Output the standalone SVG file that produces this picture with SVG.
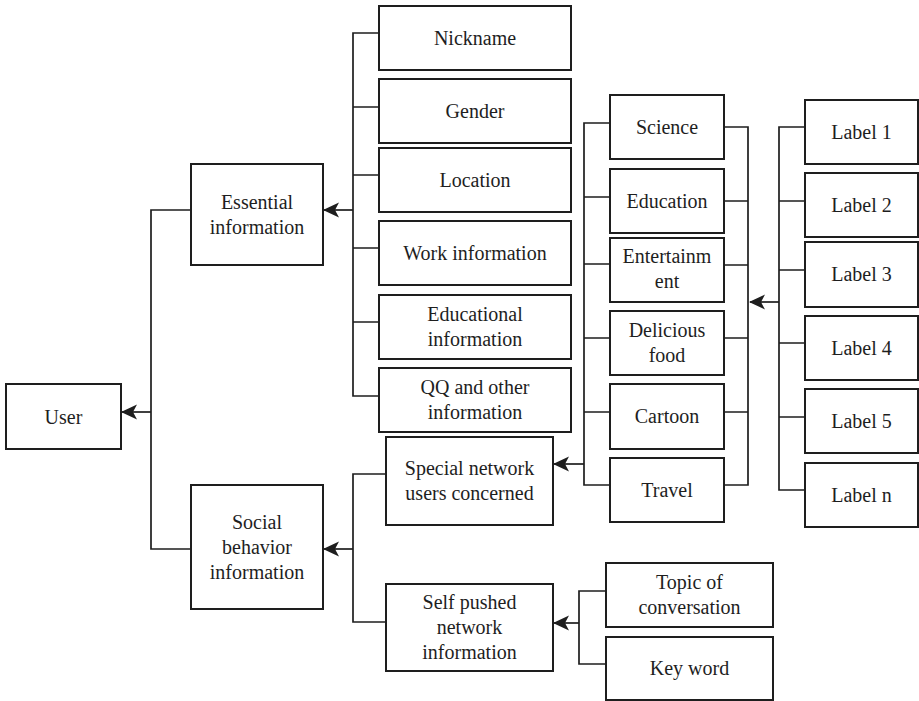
<svg xmlns="http://www.w3.org/2000/svg" width="919" height="701" viewBox="0 0 919 701">
  <style>
    .box { fill: #ffffff; stroke: #1e1e1e; stroke-width: 2; }
    .lbl { font-size: 20px; fill: #1e1e1e; text-anchor: middle; }
    .wire { fill: none; stroke: #1e1e1e; stroke-width: 1.7; }
  </style>
  <defs>
    <marker id="arrow" viewBox="0 0 16 16" refX="15" refY="8" markerWidth="16" markerHeight="16" markerUnits="userSpaceOnUse" orient="auto">
      <path d="M0,0.5 L16,8 L0,15.5 L4,8 Z" fill="#1e1e1e"/>
    </marker>
  </defs>
  <rect width="919" height="701" fill="#ffffff"/>

  <!-- connectors -->
  <g id="connectors">
    <!-- User tree -->
    <path class="wire" d="M191,210 H151 V549 H191"/>
    <path class="wire" d="M151,412 H122" marker-end="url(#arrow)"/>
    <!-- Essential information children -->
    <path class="wire" d="M379,33 H353 V396 H379 M353,107 H379 M353,175 H379 M353,248 H379 M353,322 H379"/>
    <path class="wire" d="M353,210 H324" marker-end="url(#arrow)"/>
    <!-- Social behavior children -->
    <path class="wire" d="M386,474 H353 V622 H386"/>
    <path class="wire" d="M353,549 H324" marker-end="url(#arrow)"/>
    <!-- Interest categories -->
    <path class="wire" d="M610,123 H584 V485 H610 M584,197 H610 M584,264 H610 M584,338 H610 M584,412 H610"/>
    <path class="wire" d="M584,464 H554" marker-end="url(#arrow)"/>
    <path class="wire" d="M724,127 H748 V485 H724 M724,201 H748 M724,265 H748 M724,338 H748 M724,412 H748"/>
    <!-- Labels -->
    <path class="wire" d="M805,127 H779 V490 H805 M779,201 H805 M779,270 H805 M779,343 H805 M779,417 H805"/>
    <path class="wire" d="M779,302 H750" marker-end="url(#arrow)"/>
    <!-- Self pushed children -->
    <path class="wire" d="M606,591 H579 V664 H606"/>
    <path class="wire" d="M579,623 H554" marker-end="url(#arrow)"/>
  </g>

  <g font-family="Liberation Serif, Tinos, Times New Roman, Noto Serif, serif">
  <g id="user">
    <rect class="box" x="6" y="384" width="115" height="65"/>
    <text class="lbl" x="63.5" y="423.5">User</text>
  </g>

  <g id="essential">
    <rect class="box" x="191" y="164" width="132" height="101"/>
    <text class="lbl" x="257" y="209">Essential</text>
    <text class="lbl" x="257" y="234">information</text>
  </g>

  <g id="social">
    <rect class="box" x="191" y="485" width="132" height="124"/>
    <text class="lbl" x="257" y="529">Social</text>
    <text class="lbl" x="257" y="554">behavior</text>
    <text class="lbl" x="257" y="579">information</text>
  </g>

  <g id="nickname">
    <rect class="box" x="379" y="6" width="192" height="64"/>
    <text class="lbl" x="475" y="45">Nickname</text>
  </g>
  <g id="gender">
    <rect class="box" x="379" y="79" width="192" height="64"/>
    <text class="lbl" x="475" y="118">Gender</text>
  </g>
  <g id="location">
    <rect class="box" x="379" y="148" width="192" height="64"/>
    <text class="lbl" x="475" y="187">Location</text>
  </g>
  <g id="work">
    <rect class="box" x="379" y="221" width="192" height="64"/>
    <text class="lbl" x="475" y="260">Work information</text>
  </g>
  <g id="educational">
    <rect class="box" x="379" y="295" width="192" height="64"/>
    <text class="lbl" x="475" y="321">Educational</text>
    <text class="lbl" x="475" y="346">information</text>
  </g>
  <g id="qq">
    <rect class="box" x="379" y="368" width="192" height="64"/>
    <text class="lbl" x="475" y="394">QQ and other</text>
    <text class="lbl" x="475" y="419">information</text>
  </g>

  <g id="special">
    <rect class="box" x="386" y="437" width="167" height="88"/>
    <text class="lbl" x="469.5" y="475">Special network</text>
    <text class="lbl" x="469.5" y="500">users concerned</text>
  </g>
  <g id="selfpushed">
    <rect class="box" x="386" y="584" width="167" height="87"/>
    <text class="lbl" x="469.5" y="609">Self pushed</text>
    <text class="lbl" x="469.5" y="634">network</text>
    <text class="lbl" x="469.5" y="659">information</text>
  </g>

  <g id="science">
    <rect class="box" x="610" y="95" width="114" height="64"/>
    <text class="lbl" x="667" y="134">Science</text>
  </g>
  <g id="education">
    <rect class="box" x="610" y="169" width="114" height="64"/>
    <text class="lbl" x="667" y="208">Education</text>
  </g>
  <g id="entertainment">
    <rect class="box" x="610" y="238" width="114" height="64"/>
    <text class="lbl" x="667" y="263">Entertainm</text>
    <text class="lbl" x="667" y="288">ent</text>
  </g>
  <g id="food">
    <rect class="box" x="610" y="311" width="114" height="64"/>
    <text class="lbl" x="667" y="337">Delicious</text>
    <text class="lbl" x="667" y="362">food</text>
  </g>
  <g id="cartoon">
    <rect class="box" x="610" y="384" width="114" height="65"/>
    <text class="lbl" x="667" y="423">Cartoon</text>
  </g>
  <g id="travel">
    <rect class="box" x="610" y="458" width="114" height="64"/>
    <text class="lbl" x="667" y="497">Travel</text>
  </g>

  <g id="label1">
    <rect class="box" x="805" y="100" width="113" height="64"/>
    <text class="lbl" x="861.5" y="139">Label 1</text>
  </g>
  <g id="label2">
    <rect class="box" x="805" y="173" width="113" height="64"/>
    <text class="lbl" x="861.5" y="212">Label 2</text>
  </g>
  <g id="label3">
    <rect class="box" x="805" y="242" width="113" height="65"/>
    <text class="lbl" x="861.5" y="281">Label 3</text>
  </g>
  <g id="label4">
    <rect class="box" x="805" y="316" width="113" height="64"/>
    <text class="lbl" x="861.5" y="355">Label 4</text>
  </g>
  <g id="label5">
    <rect class="box" x="805" y="389" width="113" height="64"/>
    <text class="lbl" x="861.5" y="428">Label 5</text>
  </g>
  <g id="labeln">
    <rect class="box" x="805" y="463" width="113" height="64"/>
    <text class="lbl" x="861.5" y="502">Label n</text>
  </g>

  <g id="topic">
    <rect class="box" x="606" y="563" width="167" height="64"/>
    <text class="lbl" x="689.5" y="589">Topic of</text>
    <text class="lbl" x="689.5" y="614">conversation</text>
  </g>
  <g id="keyword">
    <rect class="box" x="606" y="637" width="167" height="63"/>
    <text class="lbl" x="689.5" y="675">Key word</text>
  </g>
  </g>
</svg>
